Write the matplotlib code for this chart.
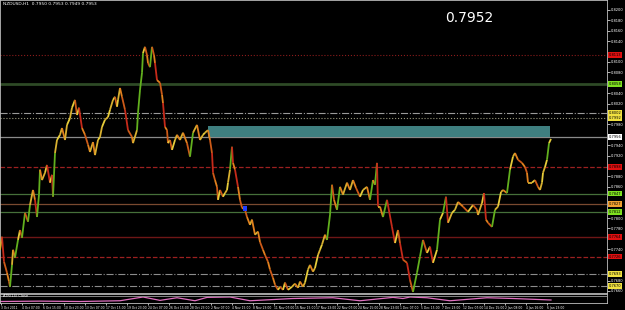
import numpy as np
import matplotlib.pyplot as plt
import matplotlib.transforms as mtransforms
from matplotlib.collections import LineCollection
from matplotlib.patches import Rectangle

# NZDUSD H1 closes (x = chart column, one column ~ 3 bars)
bar = [0, 2, 4, 7, 9, 10, 12, 13, 15, 18, 20, 22, 25, 28, 30, 33, 35, 37, 39, 40, 42, 45, 47, 50, 52, 53, 55, 57,
       60, 62, 65, 67, 70, 72, 75, 77, 79, 82, 85, 88, 90, 93, 95, 98, 100, 102, 105, 108, 110, 113, 115, 117, 118,
       120, 122, 125, 128, 132, 133, 137, 138, 140, 142, 143, 145,
       147, 148, 150, 152, 154, 155, 157, 160, 162, 163, 165, 167, 168, 170, 172, 175, 177, 180, 183, 187, 190, 193,
       197, 200, 203, 205, 208, 210,
       212, 213, 215, 217, 218, 220, 223, 225, 227, 228, 230, 232, 233, 235, 238, 240, 242, 245, 247, 250, 252, 255,
       258, 260, 263, 265, 268, 270, 273, 275, 278, 280, 283, 285, 288, 292, 295, 298, 300, 303, 305, 308, 310, 313,
       315, 318, 320, 322, 325, 327, 330, 332,
       334, 337, 340, 343, 347, 350, 353, 356, 360, 363, 367, 370, 373, 375, 377, 378, 380,
       383, 387, 392, 395, 398, 400, 403, 407, 410, 413, 417, 420, 423, 427, 430, 433, 437, 440, 443, 446, 448, 452,
       455, 458, 463, 468, 473, 477, 478, 482, 484, 486, 488, 492, 495, 498, 501, 503, 507, 510, 513, 515, 518, 522,
       525, 527, 528, 532, 535, 538, 540, 542, 543, 545, 547, 549, 551]
close = [0.7739, 0.7764, 0.7716, 0.7695, 0.7678, 0.7668, 0.7710, 0.7739, 0.7724, 0.7758, 0.7777, 0.7762, 0.7810,
         0.7793, 0.7825, 0.7854, 0.7835, 0.7802, 0.7845, 0.7893, 0.7873, 0.7887, 0.7902, 0.7868, 0.7883, 0.7841,
         0.7925, 0.7950,
         0.7960, 0.7973, 0.7950, 0.7979, 0.7992, 0.8012, 0.8027, 0.7998, 0.8012, 0.7973, 0.7960, 0.7941, 0.7927,
         0.7946, 0.7921, 0.7950, 0.7956, 0.7975, 0.7989, 0.7994, 0.8008, 0.8027, 0.8033, 0.8014, 0.8027, 0.8050,
         0.8033, 0.8008, 0.7969, 0.7956, 0.7944, 0.7969, 0.8002, 0.8046, 0.8079, 0.8117, 0.8129,
         0.8113, 0.8098, 0.8090, 0.8129, 0.8113, 0.8098, 0.8065, 0.8060, 0.8037, 0.8021, 0.7975, 0.7969, 0.7944,
         0.7950, 0.7931, 0.7950, 0.7960, 0.7950, 0.7964, 0.7944, 0.7918, 0.7964, 0.7979, 0.7950, 0.7960, 0.7964,
         0.7969, 0.7950,
         0.7925, 0.7887, 0.7873, 0.7860, 0.7835, 0.7854, 0.7841, 0.7848, 0.7854, 0.7868, 0.7893, 0.7937, 0.7906,
         0.7893, 0.7860, 0.7835, 0.7820, 0.7816, 0.7802, 0.7787, 0.7797, 0.7768, 0.7774, 0.7754, 0.7739, 0.7729,
         0.7716, 0.7701, 0.7685, 0.7672, 0.7662, 0.7668, 0.7662, 0.7676, 0.7662, 0.7668, 0.7674, 0.7666, 0.7678,
         0.7668, 0.7676, 0.7701, 0.7710, 0.7697, 0.7704, 0.7729, 0.7739, 0.7749, 0.7768, 0.7758, 0.7806, 0.7864,
         0.7835, 0.7816, 0.7860, 0.7845, 0.7868, 0.7854, 0.7873, 0.7858, 0.7841, 0.7854, 0.7860, 0.7835, 0.7873,
         0.7864, 0.7906, 0.7822, 0.7822,
         0.7802, 0.7835, 0.7783, 0.7752, 0.7777, 0.7752, 0.7720, 0.7714, 0.7681, 0.7658, 0.7695, 0.7726, 0.7758,
         0.7733, 0.7745, 0.7714, 0.7739, 0.7797, 0.7810, 0.7841, 0.7791, 0.7810, 0.7816, 0.7831, 0.7822, 0.7812,
         0.7825, 0.7816, 0.7806, 0.7829, 0.7848, 0.7797, 0.7791, 0.7783, 0.7816, 0.7822, 0.7850, 0.7854, 0.7848,
         0.7893, 0.7918, 0.7925, 0.7912, 0.7906, 0.7898, 0.7887, 0.7868, 0.7868, 0.7873, 0.7860, 0.7854, 0.7868,
         0.7887, 0.7898, 0.7912, 0.7944, 0.7952]

# horizontal levels drawn on the chart
levels = [0.8113, 0.8058, 0.8002, 0.7992, 0.7956, 0.7898, 0.7847, 0.7827, 0.7812, 0.7764, 0.7726, 0.7693, 0.7670]
level_style = [':', '-', '-.', ':', '-', '--', '-', '-', '-', '-', '--', '-.', '-.']
level_color = ['#8b1c1c', '#2e4a26', '#9a9a9a', '#9a9a80', '#8a8a8a', '#9c2020', '#46703a', '#7a4a30',
               '#46703a', '#6e1616', '#9c2020', '#8c8c8c', '#8c8c8c']
level_width = [0.8, 2.0, 0.8, 0.8, 0.9, 0.9, 0.9, 0.9, 0.9, 1.0, 0.9, 0.8, 0.8]
label_color = ['#e01010', '#7ee020', '#f0e040', '#f0e040', '#ffffff', '#e01010', '#7ee020', '#f0a030',
               '#7ee020', '#e01010', '#e01010', '#f0e040', '#f0e040']

zone = (208, 550, 0.7956, 0.7977)      # supply zone box
marker = (243, 247, 0.7814, 0.7823)    # blue box

# indicator window
ind_x = [0, 40, 80, 120, 143, 160, 177, 195, 207, 230, 250, 293, 333, 360, 393, 403, 410, 427, 450, 487, 513, 551]
ind_v = [0.2, 0.25, 0.2, 0.3, 0.8, 0.35, 0.7, 0.3, 0.75, 0.8, 0.3, 0.6, 0.7, 0.3, 0.75, 0.6, 0.8, 0.7, 0.3, 0.7, 0.6, 0.4]

date_labels = ['3 Oct 2011', '4 Oct 07:00', '6 Oct 15:00', '10 Oct 23:00', '13 Oct 07:00', '17 Oct 15:00',
               '19 Oct 23:00', '24 Oct 07:00', '26 Oct 15:00', '28 Oct 23:00', '2 Nov 07:00', '4 Nov 15:00',
               '8 Nov 23:00', '11 Nov 07:00', '15 Nov 15:00', '17 Nov 23:00', '22 Nov 07:00', '24 Nov 15:00',
               '28 Nov 23:00', '1 Dec 07:00', '5 Dec 15:00', '7 Dec 23:00', '12 Dec 07:00', '14 Dec 15:00',
               '2 Jan 08:00', '4 Jan 16:00', '6 Jan 23:00']

W, H = 625, 310
fig = plt.figure(figsize=(W / 100, H / 100), dpi=100, facecolor='black')
ax = fig.add_axes([0.0, 1 - 293 / H, 607 / W, 293 / H], facecolor='black')
ax.set_xlim(0, 607)
ax.set_ylim(0.7656, 0.8219)

# levels
for p, ls, c, lw in zip(levels, level_style, level_color, level_width):
    ax.axhline(p, ls=ls, color=c, lw=lw, zorder=1)

ax.add_patch(Rectangle((zone[0], zone[2]), zone[1] - zone[0], zone[3] - zone[2],
                       facecolor='#3f7f80', edgecolor='none', zorder=2))

# price line, coloured by move
x = np.array(bar, dtype=float)
y = np.array(close)
segs = np.stack([np.column_stack([x[:-1], y[:-1]]), np.column_stack([x[1:], y[1:]])], axis=1)
d = np.diff(y)
cols = []
for i, v in enumerate(d):
    if v > 0.0030:
        cols.append('#62b01e')
    elif v < -0.0030:
        cols.append('#c62a1a')
    elif v >= 0:
        cols.append('#e6cc3a' if i % 2 else '#d8b030')
    else:
        cols.append('#e0801e' if i % 2 else '#cc5a18')
ax.add_collection(LineCollection(segs, colors=cols, linewidths=1.3, zorder=3))

ax.add_patch(Rectangle((marker[0], marker[2]), marker[1] - marker[0], marker[3] - marker[2],
                       facecolor='#1e3cff', edgecolor='none', zorder=4))

# right price scale, skipping ticks hidden under the level tags
ticks = [t for t in np.arange(0.7660, 0.8220, 0.0020) if min(abs(t - p) for p in levels) > 0.0009]
ax.yaxis.tick_right()
ax.set_yticks(ticks)
ax.yaxis.set_major_formatter(plt.FormatStrFormatter('%.4f'))
ax.tick_params(axis='y', colors='white', labelsize=2.6, length=2, width=0.5, pad=1)
ax.set_xticks([])
for s in ax.spines.values():
    s.set_color('#c0c0c0')
    s.set_linewidth(0.6)

tr = mtransforms.blended_transform_factory(ax.transAxes, ax.transData)
for p, c in zip(levels, label_color):
    ax.text(1.003, p, f'{p:.4f}', transform=tr, fontsize=2.6, color='black', va='center', ha='left',
            bbox=dict(facecolor=c, edgecolor='none', pad=0.6), clip_on=False, zorder=5)

ax.text(0.005, 0.992, 'NZDUSD,H1  0.7950 0.7953 0.7949 0.7953', transform=ax.transAxes,
        fontsize=3.2, color='white', va='top', ha='left')
fig.text(469 / W, 1 - 18 / H, '0.7952', color='white', fontsize=10, ha='center', va='center')

# indicator panel
ax2 = fig.add_axes([0.0, 1 - 303 / H, 607 / W, 9 / H], facecolor='black')
ax2.set_xlim(0, 607)
ax2.set_ylim(0, 1.2)
ax2.plot(ind_x, ind_v, color='#e070c0', lw=0.9)
ax2.axhline(0.95, color='#9a9a9a', lw=0.6)
ax2.text(0.005, 0.98, 'ATR(14) Close', transform=ax2.transAxes, fontsize=2.6, color='white', va='top')
ax2.set_yticks([])
ax2.set_xticks(np.arange(len(date_labels)) * 21 + 1)
ax2.set_xticklabels(date_labels)
ax2.tick_params(axis='x', colors='white', labelsize=2.2, length=1.5, width=0.5, pad=0.5)
for lab in ax2.get_xticklabels():
    lab.set_horizontalalignment('left')
for s in ax2.spines.values():
    s.set_color('#c0c0c0')
    s.set_linewidth(0.6)

fig.savefig('out.png', dpi=100, facecolor='black')
